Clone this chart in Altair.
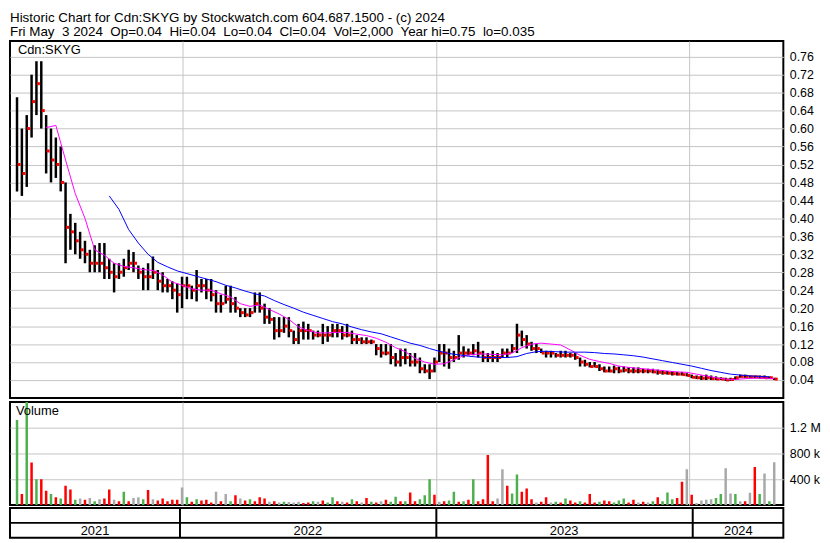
import altair as alt
import pandas as pd

FONT = "Liberation Sans"

title_line1 = "Historic Chart for Cdn:SKYG by Stockwatch.com 604.687.1500 - (c) 2024"
title_line2 = ("Fri May\u00a0 3 2024\u00a0 Op=0.04\u00a0 Hi=0.04\u00a0 Lo=0.04\u00a0 Cl=0.04"
               "\u00a0 Vol=2,000\u00a0 Year hi=0.75\u00a0 lo=0.035")
symbol_label = "Cdn:SKYG"
volume_label = "Volume"

# weekly bars, first week ending Fri 2021-05-07, last Fri 2024-05-03
first_week = "2021-05-07"
n_weeks = 157
week_dates = pd.date_range(first_week, periods=n_weeks, freq="7D")

price_hi = [
    0.67, 0.60, 0.63, 0.72, 0.75, 0.75, 0.63, 0.60, 0.58, 0.56,
    0.48, 0.41, 0.39, 0.37, 0.35, 0.33, 0.34, 0.345, 0.345, 0.31,
    0.30, 0.30, 0.31, 0.33, 0.325, 0.295, 0.29, 0.30, 0.315, 0.285,
    0.28, 0.265, 0.26, 0.255, 0.27, 0.27, 0.25, 0.285, 0.265, 0.265,
    0.265, 0.24, 0.23, 0.25, 0.25, 0.225, 0.20, 0.20, 0.20, 0.235,
    0.235, 0.21, 0.20, 0.18, 0.18, 0.18, 0.18, 0.15, 0.165, 0.17,
    0.165, 0.15, 0.15, 0.165, 0.16, 0.165, 0.165, 0.16, 0.165, 0.15,
    0.14, 0.135, 0.135, 0.13, 0.12, 0.12, 0.12, 0.12, 0.10, 0.11,
    0.11, 0.10, 0.10, 0.09, 0.075, 0.075, 0.09, 0.12, 0.12, 0.11,
    0.105, 0.14, 0.115, 0.11, 0.12, 0.125, 0.105, 0.10, 0.105, 0.10,
    0.11, 0.11, 0.12, 0.165, 0.15, 0.14, 0.125, 0.12, 0.11, 0.105,
    0.105, 0.10, 0.105, 0.105, 0.10, 0.10, 0.09, 0.085, 0.08, 0.08,
    0.075, 0.07, 0.07, 0.072, 0.07, 0.07, 0.068, 0.068, 0.068, 0.065,
    0.065, 0.065, 0.063, 0.062, 0.06, 0.06, 0.058, 0.058, 0.055, 0.052,
    0.05, 0.05, 0.052, 0.05, 0.048, 0.046, 0.045, 0.045, 0.048, 0.052,
    0.052, 0.05, 0.05, 0.05, 0.05, 0.048, 0.045,
]
price_lo = [
    0.46, 0.45, 0.47, 0.58, 0.63, 0.60, 0.50, 0.48, 0.49, 0.46,
    0.30, 0.33, 0.32, 0.31, 0.30, 0.28, 0.28, 0.28, 0.265, 0.265,
    0.235, 0.265, 0.27, 0.285, 0.28, 0.265, 0.24, 0.24, 0.265, 0.24,
    0.235, 0.235, 0.22, 0.19, 0.20, 0.22, 0.22, 0.215, 0.235, 0.22,
    0.215, 0.19, 0.19, 0.21, 0.19, 0.19, 0.18, 0.18, 0.18, 0.19,
    0.19, 0.165, 0.165, 0.13, 0.135, 0.145, 0.135, 0.12, 0.12, 0.13,
    0.13, 0.13, 0.135, 0.12, 0.125, 0.135, 0.135, 0.13, 0.135, 0.12,
    0.12, 0.12, 0.12, 0.12, 0.095, 0.09, 0.095, 0.075, 0.07, 0.07,
    0.075, 0.07, 0.07, 0.055, 0.055, 0.042, 0.057, 0.08, 0.07, 0.065,
    0.08, 0.085, 0.09, 0.095, 0.095, 0.09, 0.08, 0.08, 0.08, 0.08,
    0.09, 0.09, 0.10, 0.10, 0.115, 0.11, 0.105, 0.10, 0.10, 0.09,
    0.09, 0.09, 0.09, 0.09, 0.09, 0.085, 0.07, 0.07, 0.068, 0.068,
    0.06, 0.057, 0.057, 0.055, 0.055, 0.057, 0.055, 0.055, 0.055, 0.055,
    0.055, 0.055, 0.052, 0.052, 0.052, 0.05, 0.05, 0.05, 0.048, 0.044,
    0.042, 0.04, 0.04, 0.04, 0.04, 0.04, 0.038, 0.038, 0.04, 0.045,
    0.045, 0.045, 0.044, 0.043, 0.043, 0.042, 0.04,
]
price_cl = [
    0.52, 0.50, 0.60, 0.66, 0.70, 0.64, 0.55, 0.53, 0.52, 0.48,
    0.38, 0.37, 0.35, 0.33, 0.32, 0.30, 0.30, 0.30, 0.29, 0.28,
    0.27, 0.28, 0.29, 0.30, 0.30, 0.28, 0.27, 0.27, 0.28, 0.26,
    0.25, 0.25, 0.24, 0.23, 0.25, 0.25, 0.24, 0.25, 0.25, 0.24,
    0.23, 0.21, 0.21, 0.22, 0.21, 0.20, 0.19, 0.185, 0.19, 0.21,
    0.20, 0.18, 0.175, 0.15, 0.15, 0.16, 0.15, 0.13, 0.15, 0.15,
    0.15, 0.14, 0.14, 0.14, 0.14, 0.15, 0.15, 0.14, 0.14, 0.13,
    0.13, 0.125, 0.125, 0.125, 0.11, 0.10, 0.10, 0.09, 0.08, 0.09,
    0.09, 0.08, 0.08, 0.065, 0.06, 0.06, 0.08, 0.10, 0.10, 0.09,
    0.09, 0.10, 0.10, 0.10, 0.105, 0.10, 0.09, 0.09, 0.09, 0.09,
    0.10, 0.10, 0.11, 0.14, 0.13, 0.12, 0.11, 0.11, 0.10, 0.10,
    0.10, 0.095, 0.095, 0.095, 0.095, 0.09, 0.08, 0.075, 0.07, 0.07,
    0.065, 0.06, 0.06, 0.065, 0.06, 0.062, 0.06, 0.06, 0.06, 0.06,
    0.06, 0.058, 0.057, 0.056, 0.055, 0.054, 0.053, 0.052, 0.05, 0.046,
    0.045, 0.044, 0.045, 0.043, 0.042, 0.042, 0.04, 0.041, 0.045, 0.048,
    0.048, 0.047, 0.047, 0.046, 0.045, 0.045, 0.042,
]

# moving averages, read every second week
pink_first_week = 6
pink_ma = [
    0.602, 0.607, 0.53, 0.455, 0.40, 0.33, 0.318, 0.30, 0.293, 0.29,
    0.286, 0.284, 0.274, 0.258, 0.251, 0.243, 0.24, 0.24, 0.232, 0.225,
    0.21, 0.204, 0.207, 0.197, 0.187, 0.175, 0.158, 0.15, 0.145, 0.145,
    0.146, 0.146, 0.142, 0.139, 0.133, 0.124, 0.112, 0.103, 0.088, 0.08,
    0.075, 0.076, 0.085, 0.094, 0.097, 0.098, 0.097, 0.096, 0.10, 0.112,
    0.12, 0.122, 0.12, 0.118, 0.107, 0.095, 0.086, 0.081, 0.077, 0.071,
    0.068, 0.066, 0.064, 0.062, 0.060, 0.058, 0.057, 0.053, 0.049, 0.045,
    0.042, 0.041, 0.043, 0.044, 0.044, 0.043,
]
blue_first_week = 19
blue_ma = [
    0.45, 0.42, 0.375, 0.345, 0.32, 0.302, 0.292, 0.283, 0.277, 0.271,
    0.265, 0.259, 0.251, 0.245, 0.238, 0.232, 0.227, 0.217, 0.208, 0.200,
    0.191, 0.184, 0.177, 0.170, 0.165, 0.158, 0.152, 0.147, 0.143, 0.136,
    0.129, 0.122, 0.117, 0.11, 0.104, 0.099, 0.096, 0.093, 0.091, 0.09,
    0.09, 0.09, 0.092, 0.099, 0.103, 0.104, 0.103, 0.102, 0.102, 0.102,
    0.101, 0.099, 0.098, 0.096, 0.094, 0.091, 0.087, 0.083, 0.079, 0.075,
    0.071, 0.066, 0.061, 0.057, 0.053, 0.051, 0.049, 0.048, 0.047,
]

volume = [
    1320000, 170000, 1700000, 660000, 400000, 400000, 220000, 170000, 120000, 100000,
    300000, 240000, 80000, 100000, 80000, 110000, 60000, 90000, 100000, 240000,
    80000, 60000, 205000, 60000, 110000, 120000, 90000, 235000, 90000, 70000,
    100000, 60000, 80000, 80000, 270000, 120000, 50000, 90000, 70000, 80000,
    40000, 205000, 60000, 170000, 60000, 150000, 100000, 70000, 90000, 60000,
    120000, 100000, 50000, 60000, 40000, 50000, 45000, 40000, 50000, 30000,
    40000, 60000, 50000, 70000, 40000, 120000, 60000, 50000, 40000, 90000,
    60000, 40000, 110000, 50000, 40000, 60000, 80000, 50000, 130000, 60000,
    60000, 195000, 60000, 90000, 150000, 400000, 160000, 50000, 60000, 70000,
    205000, 50000, 60000, 80000, 400000, 60000, 90000, 775000, 60000, 100000,
    555000, 300000, 180000, 475000, 205000, 255000, 90000, 40000, 50000, 120000,
    40000, 50000, 40000, 100000, 70000, 40000, 60000, 40000, 170000, 40000,
    50000, 70000, 60000, 40000, 70000, 100000, 40000, 80000, 40000, 50000,
    40000, 60000, 120000, 60000, 195000, 90000, 110000, 360000, 555000, 160000,
    30000, 70000, 80000, 90000, 110000, 170000, 570000, 180000, 170000, 60000,
    60000, 190000, 590000, 170000, 490000, 60000, 665000,
]
# g = up day (green), r = down day (red), n = unchanged (grey)
volume_dir = [
    "g", "r", "g", "r", "g", "r", "r", "g", "r", "g",
    "r", "r", "g", "n", "r", "n", "g", "n", "r", "r",
    "n", "r", "g", "r", "n", "n", "g", "r", "n", "r",
    "r", "r", "r", "r", "n", "g", "r", "g", "r", "r",
    "r", "n", "r", "n", "g", "r", "n", "r", "g", "r",
    "r", "r", "n", "r", "n", "g", "n", "n", "n", "r",
    "r", "g", "n", "r", "g", "g", "r", "n", "r", "g",
    "r", "n", "r", "g", "r", "n", "r", "g", "g", "r",
    "g", "r", "r", "g", "g", "g", "r", "n", "r", "g",
    "g", "r", "g", "r", "g", "r", "r", "r", "r", "n",
    "n", "r", "g", "g", "r", "r", "r", "n", "r", "r",
    "n", "g", "r", "g", "r", "r", "g", "r", "r", "r",
    "g", "r", "r", "g", "g", "g", "r", "r", "n", "r",
    "n", "g", "r", "g", "g", "g", "r", "r", "n", "r",
    "n", "n", "n", "n", "g", "g", "n", "n", "g", "n",
    "r", "n", "r", "g", "n", "g", "n",
]

x_domain = ["2021-05-04", "2024-05-09"]
year_starts = ["2022-01-01", "2023-01-01", "2024-01-01"]
year_labels = ["2021", "2022", "2023", "2024"]
year_label_dates = ["2021-09-02", "2022-07-02", "2023-07-02", "2024-03-06"]
price_ticks = [0.04, 0.08, 0.12, 0.16, 0.20, 0.24, 0.28, 0.32, 0.36, 0.40,
               0.44, 0.48, 0.52, 0.56, 0.60, 0.64, 0.68, 0.72, 0.76]
price_domain = [0, 0.795]
volume_ticks = [400000, 800000, 1200000]
volume_domain = [0, 1600000]


def dt(s):
    y, m, d = (int(p) for p in s.split("-"))
    return alt.DateTime(year=y, month=m, date=d)


W = 780
HP = 360
HV = 104
HS = 30

x_scale = alt.Scale(domain=[dt(x_domain[0]), dt(x_domain[1])])
year_grid = [dt(s) for s in year_starts]
x_axis = alt.Axis(values=year_grid, grid=True, labels=False, ticks=False,
                  domain=False, title=None)
px = alt.X("date:T", scale=x_scale, axis=x_axis)

price_df = pd.DataFrame({"date": week_dates, "hi": price_hi, "lo": price_lo, "cl": price_cl})
pink_df = pd.DataFrame({"date": week_dates[pink_first_week::2], "ma": pink_ma})
blue_df = pd.DataFrame({"date": week_dates[blue_first_week::2], "ma": blue_ma})

p_scale = alt.Scale(domain=price_domain, nice=False, zero=False)
p_axis = alt.Axis(orient="right", values=price_ticks, format=".2f", grid=True,
                  ticks=False, domain=False, title=None, labelPadding=6)

bars = alt.Chart(price_df).mark_bar(width=2.5, color="black").encode(
    x=px, y=alt.Y("lo:Q", scale=p_scale, axis=p_axis), y2="hi:Q")
closes = alt.Chart(price_df).mark_square(color="#ff0000", size=9, opacity=1,
                                         filled=True, xOffset=2).encode(
    x=px, y=alt.Y("cl:Q", scale=p_scale, axis=p_axis))
pink = alt.Chart(pink_df).mark_line(color="#ff00ff", strokeWidth=1).encode(
    x=px, y=alt.Y("ma:Q", scale=p_scale, axis=p_axis))
blue = alt.Chart(blue_df).mark_line(color="#0000ff", strokeWidth=1).encode(
    x=px, y=alt.Y("ma:Q", scale=p_scale, axis=p_axis))
sym = alt.Chart(pd.DataFrame({"label": [symbol_label]})).mark_text(
    align="left", baseline="top", font=FONT, fontSize=13, color="black").encode(
    x=alt.value(8), y=alt.value(3), text="label:N")

price_chart = alt.layer(bars, closes, pink, blue, sym).properties(width=W, height=HP)

vol_df = pd.DataFrame({"date": week_dates, "vol": volume, "dir": volume_dir})
v_axis = alt.Axis(orient="right", values=volume_ticks, grid=True, ticks=False,
                  domain=False, title=None, labelPadding=6,
                  labelExpr="datum.value >= 1000000 ? format(datum.value / 1000000, '.1f') + ' M' : format(datum.value / 1000, 'd') + ' k'")
vbars = alt.Chart(vol_df).mark_bar(width=2.5, clip=True).encode(
    x=px,
    y=alt.Y("vol:Q", scale=alt.Scale(domain=volume_domain, nice=False), axis=v_axis),
    color=alt.Color("dir:N", scale=alt.Scale(domain=["g", "r", "n"],
                                             range=["#4cb04c", "#ff0000", "#a8a8a8"]),
                    legend=None))
vlab = alt.Chart(pd.DataFrame({"label": [volume_label]})).mark_text(
    align="left", baseline="top", font=FONT, fontSize=13, color="black").encode(
    x=alt.value(6), y=alt.value(3), text="label:N")
volume_chart = alt.layer(vbars, vlab).properties(width=W, height=HV)

sx = alt.X("date:T", scale=x_scale, axis=None)
strip_rules = alt.Chart(pd.DataFrame({"date": pd.to_datetime(year_starts)})).mark_rule(
    color="black", strokeWidth=2).encode(x=sx)
strip_mid = alt.Chart(pd.DataFrame({"k": [0]})).mark_rule(
    color="black", strokeWidth=2).encode(x=alt.value(0), x2=alt.value(W), y=alt.value(15))
strip_text = alt.Chart(pd.DataFrame({"date": pd.to_datetime(year_label_dates),
                                     "year": year_labels})).mark_text(
    font=FONT, fontSize=13, color="black", baseline="middle").encode(
    x=sx, y=alt.value(23), text="year:N")
strip = alt.layer(strip_rules, strip_mid, strip_text).properties(width=W, height=HS)

lower = alt.vconcat(volume_chart, strip, spacing=0).resolve_scale(
    x="independent", y="independent")
chart = alt.vconcat(price_chart, lower, spacing=2).resolve_scale(
    x="independent", y="independent", color="independent").properties(
    padding=0,
    title=alt.TitleParams(text=[title_line1, title_line2], anchor="start", font=FONT,
                          fontSize=13.5, fontWeight="normal", color="black",
                          lineHeight=14, offset=2, dx=2),
).configure_view(stroke="black", strokeWidth=2).configure_axis(
    labelFont=FONT, labelFontSize=12.5, labelColor="black",
    gridColor="#c4c4c4", gridWidth=1)

chart.save("out.html", embed_options={"renderer": "svg", "actions": False})
